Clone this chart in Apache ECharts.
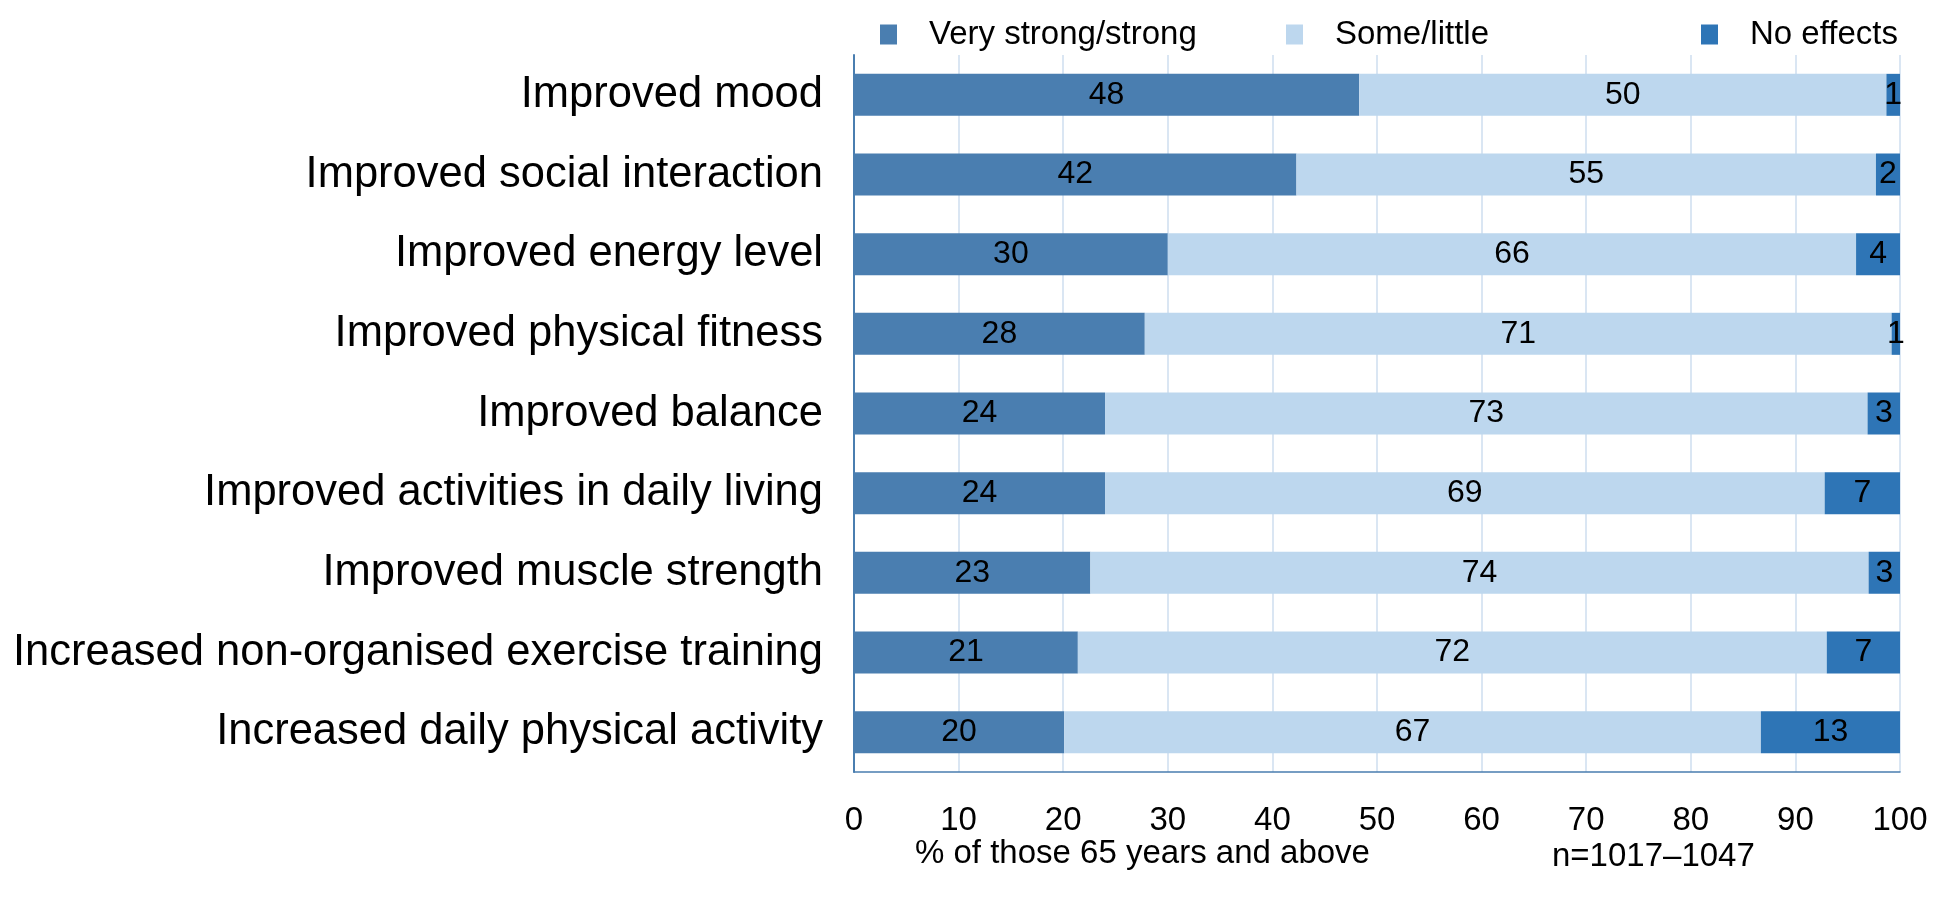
<!DOCTYPE html>
<html>
<head>
<meta charset="utf-8">
<script src="https://cdn.jsdelivr.net/npm/echarts@6/dist/echarts.min.js"></script>
<style>
html,body{margin:0;padding:0;background:#fff;}
#chart{width:1944px;height:899px;}
</style>
</head>
<body>
<div id="chart"></div>
<script>
const categories = [
  "Improved mood",
  "Improved social interaction",
  "Improved energy level",
  "Improved physical fitness",
  "Improved balance",
  "Improved activities in daily living",
  "Improved muscle strength",
  "Increased non-organised exercise training",
  "Increased daily physical activity"
];
const seriesNames = ["Very strong/strong", "Some/little", "No effects"];
const strongValues = [48.3, 42.3, 30.0, 27.8, 24.0, 24.0, 22.6, 21.4, 20.1];
const someValues   = [50.4, 55.4, 65.8, 71.4, 72.9, 68.8, 74.4, 71.6, 66.6];
const noneValues   = [1.3, 2.3, 4.2, 0.8, 3.1, 7.2, 3.0, 7.0, 13.3];
const xTicks = [0, 10, 20, 30, 40, 50, 60, 70, 80, 90, 100];
const xAxisTitle = "% of those 65 years and above";
const noteText = "n=1017\u20131047";

const FONT = "Liberation Sans, Arial, sans-serif";
const colors = ["#4A7EB0", "#BDD7EE", "#2E75B6"];
const values = [strongValues, someValues, noneValues];

const chart = echarts.init(document.getElementById('chart'));

function mkLegend(i, left) {
  return {
    data: [seriesNames[i]],
    left: left,
    top: 13,
    itemWidth: 17,
    itemHeight: 20,
    icon: 'rect',
    selectedMode: false,
    textStyle: { fontFamily: FONT, fontSize: 33, color: '#000', padding: [0, 0, 0, 27] }
  };
}

const option = {
  animation: false,
  backgroundColor: '#fff',
  color: colors,
  legend: [mkLegend(0, 875), mkLegend(1, 1281), mkLegend(2, 1696)],
  grid: { left: 854, right: 44, top: 55, bottom: 127, containLabel: false },
  xAxis: {
    type: 'value',
    min: xTicks[0],
    max: xTicks[xTicks.length - 1],
    interval: 10,
    axisLine: { show: true, lineStyle: { color: '#4A7EB0', width: 1.5 } },
    axisTick: { show: false },
    splitLine: { show: true, lineStyle: { color: '#DAE6F3', width: 2 } },
    axisLabel: { fontFamily: FONT, fontSize: 33, color: '#000', margin: 32 }
  },
  yAxis: {
    type: 'category',
    data: categories,
    inverse: true,
    axisLine: { show: true, lineStyle: { color: '#4A7EB0', width: 2 } },
    axisTick: { show: false },
    axisLabel: { fontFamily: FONT, fontSize: 43.5, color: '#000', margin: 31 }
  },
  series: seriesNames.map((name, i) => ({
    name: name,
    type: 'bar',
    stack: 'total',
    barWidth: 42,
    data: values[i],
    itemStyle: { color: colors[i] },
    label: {
      show: true,
      position: 'inside',
      fontFamily: FONT,
      fontSize: 32,
      color: '#000',
      formatter: p => String(Math.round(p.value))
    }
  })),
  graphic: [
    {
      type: 'text',
      left: 915,
      top: 837,
      style: { text: xAxisTitle, fontFamily: FONT, fontSize: 33, fill: '#000' }
    },
    {
      type: 'text',
      left: 1552,
      top: 840,
      style: { text: noteText, fontFamily: FONT, fontSize: 33, fill: '#000' }
    }
  ]
};
chart.setOption(option);
</script>
</body>
</html>
